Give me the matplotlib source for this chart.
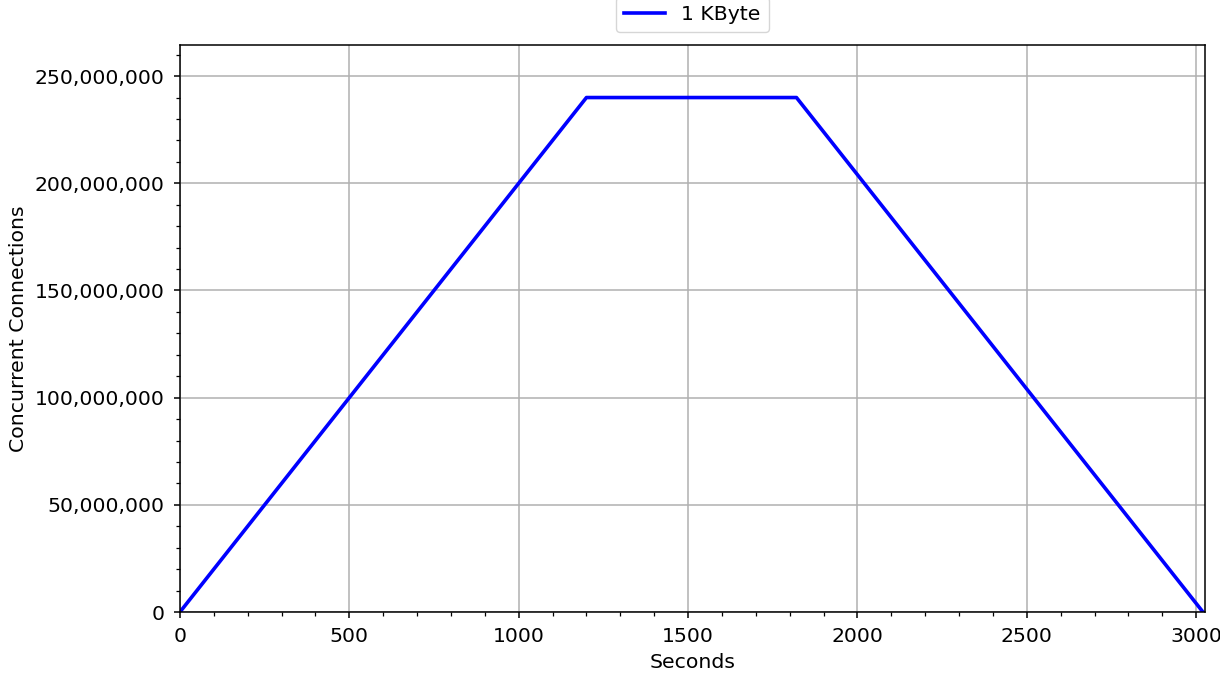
import matplotlib
matplotlib.use("Agg")
import matplotlib.pyplot as plt
from matplotlib.ticker import FuncFormatter, MultipleLocator

# Load profile: ramp up, hold, ramp down
seconds = [0, 1200, 1820, 3020]
connections = [0, 240_000_000, 240_000_000, 0]
series_label = "1 KByte"

fs = 14.7

fig = plt.figure(figsize=(12.2, 6.77), dpi=100)
ax = fig.add_axes([0.1475, 0.096, 0.8402, 0.8375])

ax.plot(seconds, connections, color="#0000ff", linewidth=2.6, label=series_label)

ax.set_xlim(0, 3026)
ax.set_ylim(0, 264_500_000)

ax.xaxis.set_major_locator(MultipleLocator(500))
ax.xaxis.set_minor_locator(MultipleLocator(100))
ax.yaxis.set_major_locator(MultipleLocator(50_000_000))
ax.yaxis.set_minor_locator(MultipleLocator(10_000_000))
ax.yaxis.set_major_formatter(FuncFormatter(lambda v, p: f"{int(v):,}"))

for s in ax.spines.values():
    s.set_linewidth(1.1)

ax.grid(True, which="major", color="#b0b0b0", linewidth=1.1)
ax.set_axisbelow(True)
ax.tick_params(axis="both", which="major", labelsize=fs, length=4.5, width=1.1)
ax.tick_params(axis="x", which="major", pad=6.5)
ax.tick_params(axis="y", which="major", pad=6.5)
ax.tick_params(axis="both", which="minor", length=2.8, width=0.9)

ax.set_xlabel("Seconds", fontsize=fs, labelpad=5)
ax.set_ylabel("Concurrent Connections", fontsize=fs, labelpad=5)

ax.legend(loc="lower center", bbox_to_anchor=(0.5, 1.005), fontsize=fs, frameon=True)

fig.savefig("out.png", dpi=100)
